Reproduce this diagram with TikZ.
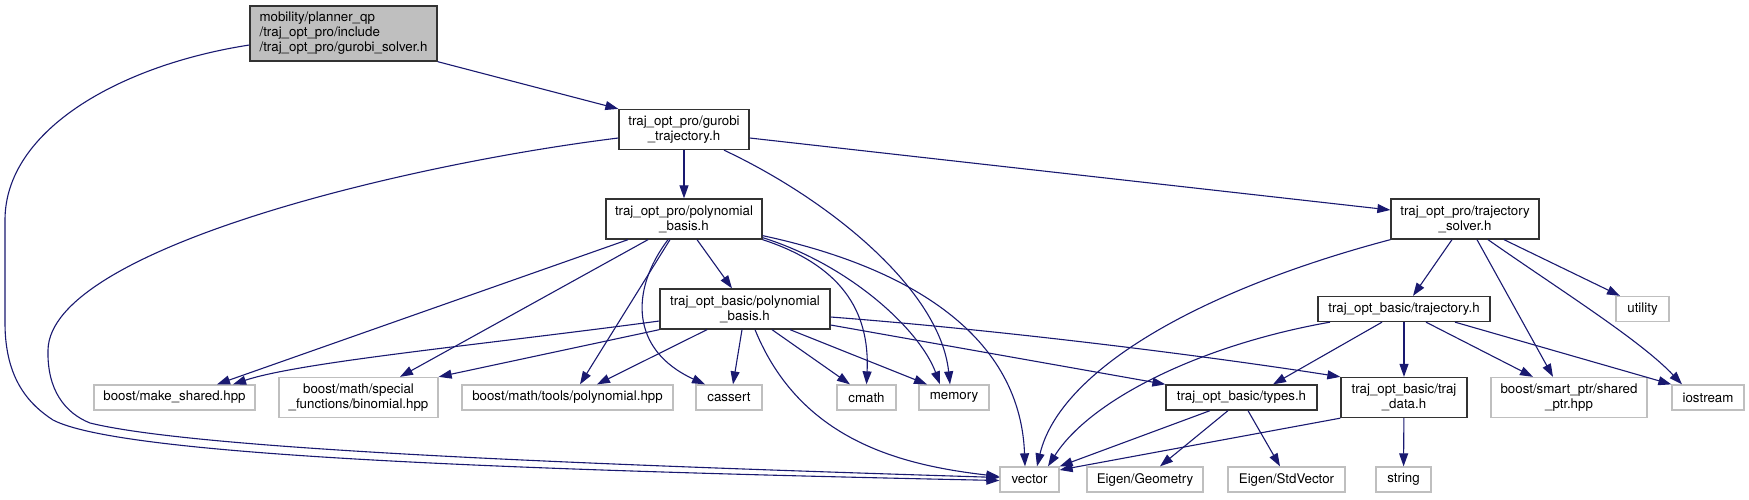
\documentclass[tikz,border=0pt]{standalone}
\usepackage{fontspec}
\setmainfont{TeX Gyre Heros}
\usetikzlibrary{arrows.meta}
\definecolor{edgeblue}{RGB}{25,25,112}
\definecolor{grey75}{RGB}{191,191,191}

\begin{document}
\begin{tikzpicture}[x=1pt, y=-1pt,
  every node/.style={font=\fontsize{13.3}{15}\selectfont, inner sep=0pt, align=center},
  box/.style={draw=black!80, line width=1.3pt, minimum height=25pt},
  box2/.style={box, minimum height=40pt},
  ext/.style={draw=grey75, line width=1.3pt, minimum height=25pt},
  ext2/.style={ext, minimum height=40pt},
  rootbox/.style={box, fill=grey75, align=left, minimum height=55pt},
  dep/.style={draw=edgeblue, line width=1.1pt, -{Triangle[length=13pt,width=9pt]}}]
\useasboundingbox (0,0) rectangle (1749,499);
% header files
\node[rootbox, minimum width=187pt] (root) at (343.5,33.5) {mobility/planner\_qp\\/traj\_opt\_pro/include\\/traj\_opt\_pro/gurobi\_solver.h};
\node[box2, minimum width=130pt] (gurobi) at (684,129.5) {traj\_opt\_pro/gurobi\\\_trajectory.h};
\node[box2, minimum width=156pt] (probasis) at (684,219) {traj\_opt\_pro/polynomial\\\_basis.h};
\node[box2, minimum width=148pt] (solver) at (1465,219) {traj\_opt\_pro/trajectory\\\_solver.h};
\node[box2, minimum width=170pt] (basicbasis) at (745,309) {traj\_opt\_basic/polynomial\\\_basis.h};
\node[box, minimum width=172pt] (basictraj) at (1404,309) {traj\_opt\_basic/trajectory.h};
\node[box, minimum width=151pt] (types) at (1241.5,397.5) {traj\_opt\_basic/types.h};
\node[box2, minimum width=126pt] (trajdata) at (1404,397.5) {traj\_opt\_basic/traj\\\_data.h};
% system and library headers
\node[ext, minimum width=53pt] (utility) at (1642.5,309) {utility};
\node[ext, minimum width=161pt] (makeshared) at (174.5,397.5) {boost/make\_shared.hpp};
\node[ext2, minimum width=159pt] (binomial) at (358.5,397.5) {boost/math/special\\\_functions/binomial.hpp};
\node[ext, minimum width=211pt] (polyhpp) at (567.5,397.5) {boost/math/tools/polynomial.hpp};
\node[ext, minimum width=66pt] (cassert) at (729,397.5) {cassert};
\node[ext, minimum width=59pt] (cmath) at (866.5,397.5) {cmath};
\node[ext, minimum width=70pt] (memory) at (954,397.5) {memory};
\node[ext2, minimum width=156pt] (sharedptr) at (1569,397.5) {boost/smart\_ptr/shared\\\_ptr.hpp};
\node[ext, minimum width=72pt] (iostream) at (1708,397.5) {iostream};
\node[ext, minimum width=59pt] (vector) at (1029.5,479.5) {vector};
\node[ext, minimum width=116pt] (geometry) at (1145,479.5) {Eigen/Geometry};
\node[ext, minimum width=117pt] (stdvector) at (1286.5,479.5) {Eigen/StdVector};
\node[ext, minimum width=55pt] (string) at (1403.5,479.5) {string};
% root
\draw[dep] (root.south east) -- (gurobi.north west);
\draw[dep] ([yshift=-11.5]root.west) .. controls (120,65) and (5,130) .. (5,220) -- (5,323)
  .. controls (5,380) and (30,405) .. (53,420) .. controls (120,455) and (500,470) .. ([yshift=-1]vector.west);
% gurobi_trajectory.h
\draw[dep] (gurobi) -- (probasis);
\draw[dep] ([yshift=-8.5]gurobi.east) -- ([yshift=9]solver.west);
\draw[dep] ([xshift=40]gurobi.south) .. controls (830,200) and (940,290) .. ([xshift=-4]memory.north);
\draw[dep] ([yshift=-8.5]gurobi.west) .. controls (400,165) and (50,250) .. (48,350)
  .. controls (47,390) and (65,413) .. (90,423) .. controls (200,450) and (600,465) .. ([yshift=2]vector.west);
% traj_opt_pro/polynomial_basis.h
\draw[dep] ([xshift=13]probasis.south) -- ([xshift=-13]basicbasis.north);
\draw[dep] ([xshift=-56]probasis.south) -- ([xshift=42.5]makeshared.north);
\draw[dep] ([xshift=-36]probasis.south) -- ([xshift=41.5]binomial.north);
\draw[dep] ([xshift=-14]probasis.south) -- ([xshift=12.5]polyhpp.north);
\draw[dep] ([xshift=-16]probasis.south) .. controls (630,290) and (630,350) .. ([xshift=-24]cassert.north);
\draw[dep] (probasis.south east) .. controls (840,265) and (870,310) .. (cmath.north);
\draw[dep] ([yshift=2]probasis.south east) .. controls (850,265) and (920,330) .. ([xshift=-14]memory.north);
\draw[dep] ([yshift=4]probasis.south east) .. controls (900,265) and (1020,330) .. ([xshift=-4.5]vector.north);
% traj_opt_basic/polynomial_basis.h
\draw[dep] ([yshift=-12]basicbasis.west) .. controls (480,345) and (300,362) .. ([xshift=58.5]makeshared.north);
\draw[dep] (basicbasis.south west) -- (binomial.north east);
\draw[dep] ([xshift=-38]basicbasis.south) -- ([xshift=29.5]polyhpp.north);
\draw[dep] ([xshift=-3]basicbasis.south) -- ([xshift=4]cassert.north);
\draw[dep] ([xshift=27]basicbasis.south) -- ([xshift=-16.5]cmath.north);
\draw[dep] ([xshift=45]basicbasis.south) -- ([xshift=-27]memory.north);
\draw[dep] ([xshift=10]basicbasis.south) .. controls (800,440) and (900,465) .. ([yshift=3]vector.west);
\draw[dep] ([yshift=-16]basicbasis.east) -- (types.north west);
\draw[dep] ([yshift=-8]basicbasis.east) .. controls (1000,330) and (1200,355) .. (trajdata.north west);
% traj_opt_pro/trajectory_solver.h
\draw[dep] ([xshift=-13]solver.south) -- ([xshift=9]basictraj.north);
\draw[dep] (solver.south west) .. controls (1200,290) and (1060,370) .. ([xshift=7.5]vector.north);
\draw[dep] ([xshift=12]solver.south) -- ([xshift=-16]sharedptr.north);
\draw[dep] ([xshift=23]solver.south) .. controls (1560,290) and (1640,340) .. ([xshift=-26]iostream.north);
\draw[dep] ([xshift=39]solver.south) -- ([xshift=-22.5]utility.north);
% traj_opt_basic/trajectory.h
\draw[dep] ([xshift=-74]basictraj.south) .. controls (1200,345) and (1090,400) .. ([xshift=18.5]vector.north);
\draw[dep] ([xshift=-22]basictraj.south) -- ([xshift=31.5]types.north);
\draw[dep] (basictraj) -- (trajdata);
\draw[dep] ([xshift=22]basictraj.south) -- ([xshift=-36]sharedptr.north);
\draw[dep] ([xshift=51]basictraj.south) -- (iostream.north west);
% types.h and traj_data.h
\draw[dep] ([xshift=-31.5]types.south) -- (vector.north east);
\draw[dep] ([xshift=-13.5]types.south) -- ([xshift=15]geometry.north);
\draw[dep] ([xshift=6.5]types.south) -- ([xshift=-6.5]stdvector.north);
\draw[dep] (trajdata.south west) -- ([yshift=9.5]vector.east);
\draw[dep] (trajdata) -- (string);
\end{tikzpicture}
\end{document}
